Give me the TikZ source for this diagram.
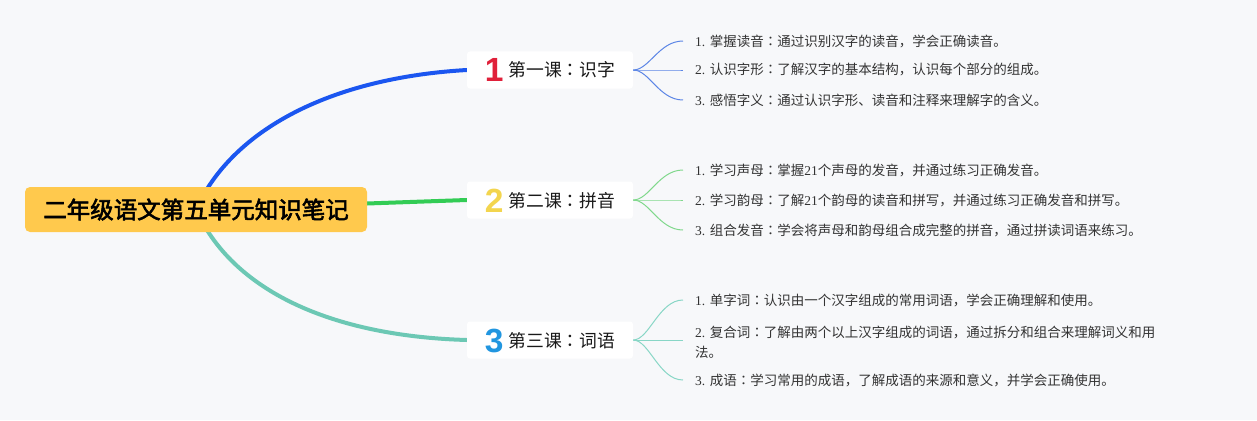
\documentclass[tikz,border=0pt]{standalone}
\usepackage{fontspec}
\setmainfont{Liberation Serif}
\newfontfamily\cjk[AutoFakeBold=2.5]{Noto Sans CJK SC}
\newfontfamily\cjktc[AutoFakeBold=2.5]{Noto Sans CJK TC}
\newfontfamily\numfont{Liberation Sans}
\definecolor{bgc}{HTML}{F7F8FA}
\definecolor{rootc}{HTML}{FFC94D}
\definecolor{blueL}{HTML}{1B56F0}
\definecolor{greenL}{HTML}{33CC55}
\definecolor{tealL}{HTML}{6CC8B4}
\definecolor{blueF}{HTML}{5C86E6}
\definecolor{greenF}{HTML}{80D88C}
\definecolor{tealF}{HTML}{88D6C6}
\definecolor{numA}{HTML}{E0203A}
\definecolor{numB}{HTML}{F3D54E}
\definecolor{numC}{HTML}{2196E0}
\definecolor{txt}{HTML}{333333}
\pgfdeclarelayer{bg}
\pgfdeclarelayer{lines}
\pgfsetlayers{bg,lines,main}
\newcommand{\lat}{\fontspec{Liberation Serif}}
\newcommand{\cn}{{\cjktc ：}}
\newcommand{\bnum}[2]{\raisebox{-5pt}{\numfont\bfseries\color{#1}\fontsize{33.5}{34}\selectfont #2}}
\begin{document}
\begin{tikzpicture}[x=1pt,y=-1pt,
  rootbox/.style={fill=rootc,rounded corners=5pt,minimum width=342pt,minimum height=45pt,inner sep=0pt,
    font=\cjk\bfseries\fontsize{23.5}{26}\selectfont,text=black},
  branchbox/.style={fill=white,rounded corners=3pt,minimum width=166pt,minimum height=37pt,inner sep=0pt,
    text height=18pt,text depth=4pt,
    font=\cjk\fontsize{17.8}{20}\selectfont,text=black!90},
  leaf/.style={anchor=west,inner xsep=12pt,inner ysep=0pt,align=left,
    font=\cjk\fontsize{13.5}{20}\selectfont,text=txt},
  thick branch/.style={line width=4pt,line cap=round},
  fan/.style={line width=1pt}
]
\begin{pgfonlayer}{bg}
\fill[bgc] (0,0) rectangle (1257,420);
\end{pgfonlayer}
\useasboundingbox (0,0) rectangle (1257,420);

\node[rootbox] (root) at (196,209.5) {二年级语文第五单元知识笔记};

\node[branchbox] (b1) at (550,70) {\bnum{numA}{1}\hspace{5pt}第一课\cn 识字};
\node[branchbox] (b2) at (550,200) {\bnum{numB}{2}\hspace{5pt}第二课\cn 拼音};
\node[branchbox] (b3) at (550,340) {\bnum{numC}{3}\hspace{5pt}第三课\cn 词语};

\node[leaf] (l11) at (683,41) {{\lat 1. }掌握读音\cn 通过识别汉字的读音，学会正确读音。};
\node[leaf] (l12) at (683,70) {{\lat 2. }认识字形\cn 了解汉字的基本结构，认识每个部分的组成。};
\node[leaf] (l13) at (683,100) {{\lat 3. }感悟字义\cn 通过认识字形、读音和注释来理解字的含义。};

\node[leaf] (l21) at (683,170) {{\lat 1. }学习声母\cn 掌握{\lat 21}个声母的发音，并通过练习正确发音。};
\node[leaf] (l22) at (683,200) {{\lat 2. }学习韵母\cn 了解{\lat 21}个韵母的读音和拼写，并通过练习正确发音和拼写。};
\node[leaf] (l23) at (683,230) {{\lat 3. }组合发音\cn 学会将声母和韵母组合成完整的拼音，通过拼读词语来练习。};

\node[leaf] (l31) at (683,300) {{\lat 1. }单字词\cn 认识由一个汉字组成的常用词语，学会正确理解和使用。};
\node[leaf] (l32) at (683,342) {{\lat 2. }复合词\cn 了解由两个以上汉字组成的词语，通过拆分和组合来理解词义和用\\法。};
\node[leaf] (l33) at (683,380) {{\lat 3. }成语\cn 学习常用的成语，了解成语的来源和意义，并学会正确使用。};

\begin{pgfonlayer}{lines}
\draw[thick branch,blueL] (root.center) .. controls (232,130) and (330,78) .. (b1.west);
\draw[thick branch,greenL] (root.center) -- (b2.west);
\draw[thick branch,tealL] (root.center) .. controls (232,290) and (330,336) .. (b3.west);

\foreach \l in {l11,l12,l13}
  \draw[fan,blueF] (b1.east) .. controls +(16,0) and +(-24,0) .. (\l.west);
\foreach \l in {l21,l22,l23}
  \draw[fan,greenF] (b2.east) .. controls +(16,0) and +(-24,0) .. (\l.west);
\draw[fan,tealF] (b3.east) .. controls +(16,0) and +(-24,0) .. (l31.west);
\draw[fan,tealF] (b3.east) -- (l32.west |- b3.east);
\draw[fan,tealF] (b3.east) .. controls +(16,0) and +(-24,0) .. (l33.west);
\end{pgfonlayer}
\end{tikzpicture}
\end{document}
